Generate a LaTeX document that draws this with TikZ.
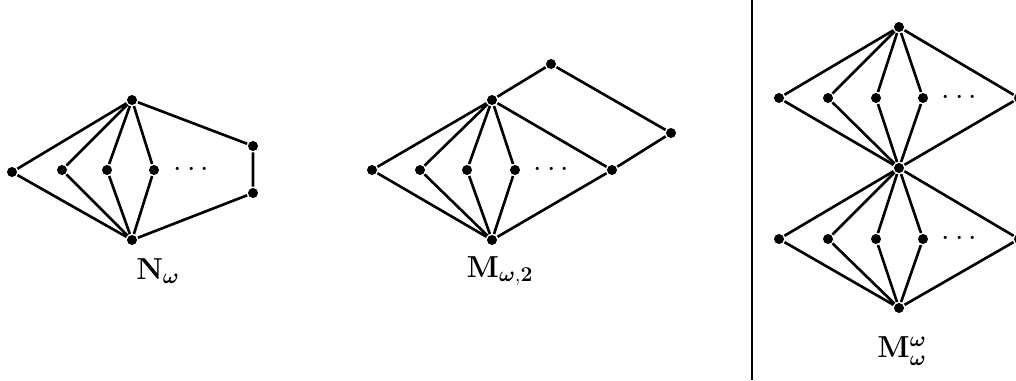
\documentclass[tikz,border=0pt]{standalone}
\usepackage{amsmath}
\usepackage{bm}
\usetikzlibrary{positioning}
\tikzset{
  dot/.style={circle, fill, inner sep=0pt, minimum size=0.2cm},
  edge/.style={line width=1.5pt},
  lbl/.style={font=\LARGE},
  gap/.style={font=\LARGE}
}

\begin{document}
\begin{tikzpicture}[x=0.02cm, y=-0.02cm, edge]
    \useasboundingbox (0,0) rectangle (1016,380);

    % N_omega
    \node[dot] (nl) at (12,172) {};
    \node[dot] (n1) at (62,170) {};
    \node[dot] (n2) at (107,170) {};
    \node[dot] (n3) at (154,170) {};
    \node[dot] (nt) at (132,100) {};
    \node[dot] (nb) at (132,240) {};
    \node[dot] (nu) at (253,146) {};
    \node[dot] (nd) at (253,193) {};
    \node[gap] (ndots) at (194,170) {$\cdots$};
    \node[lbl] (nlab) at (158,271) {$\mathbf{N}_{\boldsymbol\omega}$};

    \draw (nl) -- (nt) (nl) -- (nb) (n1) -- (nt) (n1) -- (nb)
          (n2) -- (nt) (n2) -- (nb) (n3) -- (nt) (n3) -- (nb)
          (nt) -- (nu) -- (nd) -- (nb);

    % M_{omega,2}
    \node[dot] (ml) at (372,170) {};
    \node[dot] (m1) at (420,170) {};
    \node[dot] (m2) at (467,170) {};
    \node[dot] (m3) at (515,170) {};
    \node[dot] (mt) at (492,100) {};
    \node[dot] (mb) at (492,240) {};
    \node[dot] (mr) at (612,170) {};
    \node[dot] (mft) at (551,64) {};
    \node[dot] (mfr) at (671,133) {};
    \node[gap] (mdots) at (554,170) {$\cdots$};
    \node[lbl] (mlab) at (500,271) {$\mathbf{M}_{\boldsymbol\omega,\mathbf{2}}$};

    \draw (ml) -- (mt) (ml) -- (mb) (m1) -- (mt) (m1) -- (mb)
          (m2) -- (mt) (m2) -- (mb) (m3) -- (mt) (m3) -- (mb)
          (mt) -- (mr) -- (mb)
          (mt) -- (mft) -- (mfr) -- (mr);

    % separator
    \coordinate (sept) at (752,0);
    \coordinate (sepb) at (752,380);
    \draw[line width=0.8pt] (sept) -- (sepb);

    % M^omega_omega
    \node[dot] (wt) at (899,27) {};
    \node[dot] (wm) at (899,168) {};
    \node[dot] (wb) at (899,308) {};
    \foreach \r/\y in {u/98, d/239} {
        \node[dot] (w\r l) at (779,\y) {};
        \node[dot] (w\r 1) at (828,\y) {};
        \node[dot] (w\r 2) at (876,\y) {};
        \node[dot] (w\r 3) at (923,\y) {};
        \node[dot] (w\r r) at (1019,\y) {};
        \node[gap] (w\r dots) at (962,\y) {$\cdots$};
    }
    \foreach \v in {l,1,2,3,r} {
        \draw (wu\v) -- (wt) (wu\v) -- (wm);
        \draw (wd\v) -- (wm) (wd\v) -- (wb);
    }
    \node[lbl] (wlab) at (902,351) {$\mathbf{M}^{\boldsymbol\omega}_{\boldsymbol\omega}$};
\end{tikzpicture}
\end{document}
